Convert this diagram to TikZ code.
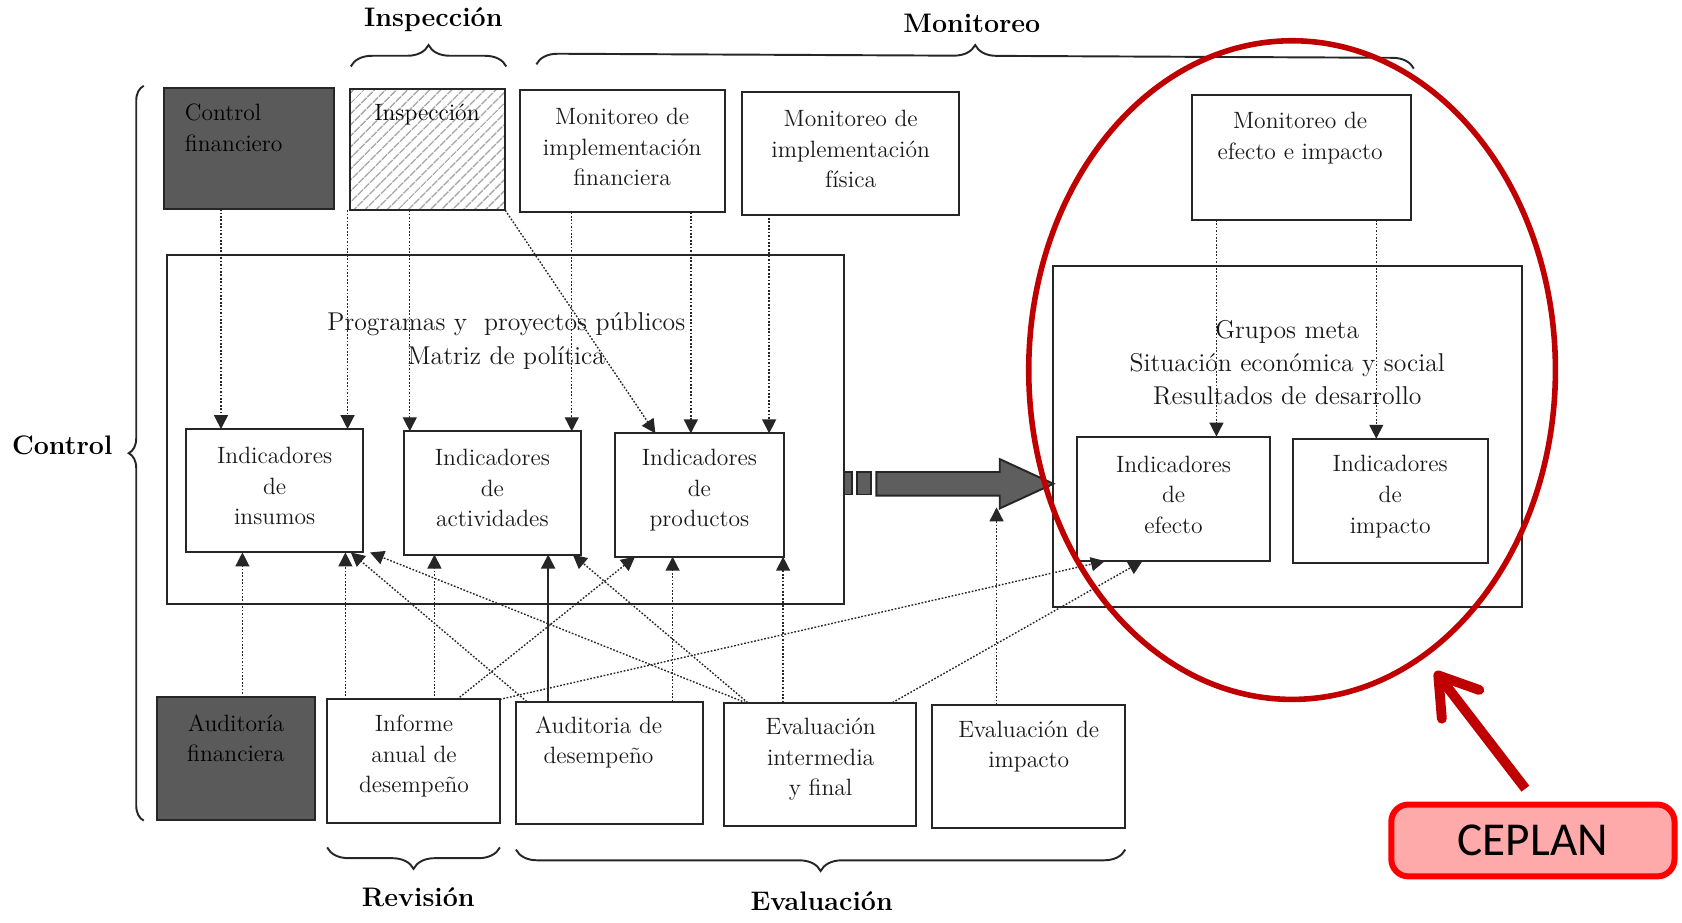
\documentclass[tikz,border=0pt]{standalone}
\usepackage{fontspec}
\newfontfamily\ceplanfont{Carlito}
\usetikzlibrary{arrows.meta,patterns.meta,decorations.pathreplacing,calc}
\definecolor{circred}{HTML}{C00000}
\definecolor{cepfill}{HTML}{FFAAAA}
\definecolor{cepline}{HTML}{FF0000}
\definecolor{darkfill}{HTML}{5A5A5A}
\definecolor{bigarrowfill}{HTML}{5E5E5E}
\newcommand{\mkbox}[6]{\node[#6, minimum width={(#4-#2)*0.5pt}, minimum height={(#5-#3)*0.5pt}] (#1) at ({(#2+#4)/2},{(#3+#5)/2}) {};}
\tikzset{
  box/.style={draw=black!85, line width=0.9pt, fill=white, inner sep=0pt, outer sep=0pt},
  darkbox/.style={box, fill=darkfill},
  hatchbox/.style={draw=black!85, line width=0.9pt, inner sep=0pt, outer sep=0pt,
    pattern={Lines[angle=45,distance=4pt,line width=0.8pt]}, pattern color=black!35},
  btxt/.style={font=\fontsize{11}{14.25}\selectfont, align=center, inner sep=0pt, text=black!90},
  dtxt/.style={btxt, text=black},
  gtxt/.style={font=\fontsize{12}{15.5}\selectfont, align=center, inner sep=0pt, text=black!90},
  ttl/.style={font=\fontsize{12.5}{15}\selectfont\bfseries, inner sep=0pt},
  brc/.style={decorate, decoration={brace, amplitude=10pt}, line width=0.9pt, draw=black!85},
  darr/.style={line width=0.65pt, draw=black!85, dash pattern=on 0.8pt off 0.8pt,
    -{Triangle[width=6.5pt,length=6.5pt]}},
  sarr/.style={line width=0.9pt, draw=black!85, -{Triangle[width=6.5pt,length=6.5pt]}},
  bigarr/.style={fill=bigarrowfill, draw=black!85, line width=0.9pt},
}
\begin{document}
\begin{tikzpicture}[x=0.5pt,y=-0.5pt]
\useasboundingbox (0,0) rectangle (1568,860);

% ---- braces and group titles
\draw[brc] (327,62) -- (472,62);
\node[ttl] (t-insp) at (404,18) {Inspección};
\draw[brc] (500,60) -- (1318,64);
\node[ttl] (t-mon) at (906,22) {Monitoreo};
\draw[brc, decoration={brace, amplitude=7pt}] (134,765) -- (134,80);
\node[ttl] (t-ctrl) at (58,415) {Control};
\draw[brc] (466,790) -- (305,790);
\node[ttl] (t-rev) at (390,836) {Revisión};
\draw[brc] (1049,792) -- (481,792);
\node[ttl] (t-eval) at (766,840) {Evaluación};

% ---- top boxes
\mkbox{cf}{153}{82}{311}{195}{darkbox}
\node[dtxt, align=left, anchor=west] (cf-t) at (172,119) {Control\\financiero};
\mkbox{insp}{326}{83}{471}{196}{hatchbox}
\node[dtxt] (insp-t) at (398,107) {Inspección};
\mkbox{mfin}{485}{84}{676}{198}{box}
\node[btxt] (mfin-t) at (580,137) {Monitoreo de\\implementación\\financiera};
\mkbox{mfis}{692}{86}{894}{200}{box}
\node[btxt] (mfis-t) at (793,139) {Monitoreo de\\implementación\\física};
\mkbox{mefi}{1111}{89}{1315}{205}{box}
\node[btxt] (mefi-t) at (1212,129) {Monitoreo de\\efecto e impacto};

% ---- middle containers
\mkbox{prog}{156}{238}{787}{563}{box}
\node[gtxt] (prog-t) at (472,318) {Programas y\ \ proyectos públicos\\Matriz de política};
\mkbox{grp}{982}{248}{1419}{566}{box}
\node[gtxt] (grp-t) at (1200,338) {Grupos meta\\Situación económica y social\\Resultados de desarrollo};

\mkbox{ins}{173}{400}{338}{515}{box}
\node[btxt] (ins-t) at (256,453) {Indicadores\\de\\insumos};
\mkbox{act}{377}{402}{542}{517}{box}
\node[btxt] (act-t) at (459,455) {Indicadores\\de\\actividades};
\mkbox{prod}{573}{404}{731}{519}{box}
\node[btxt] (prod-t) at (652,457) {Indicadores\\de\\productos};
\mkbox{efe}{1004}{407}{1184}{523}{box}
\node[btxt] (efe-t) at (1094,461) {Indicadores\\de\\efecto};
\mkbox{imp}{1205}{409}{1387}{525}{box}
\node[btxt] (imp-t) at (1296,463) {Indicadores\\de\\impacto};

% ---- bottom boxes
\mkbox{afin}{146}{650}{294}{764}{darkbox}
\node[dtxt] (afin-t) at (220,688) {Auditoría\\financiera};
\mkbox{inf}{305}{652}{466}{767}{box}
\node[btxt] (inf-t) at (386,705) {Informe\\anual de\\desempeño};
\mkbox{ades}{481}{654}{655}{768}{box}
\node[btxt] (ades-t) at (558,692) {Auditoria de\\desempeño};
\mkbox{eint}{675}{655}{854}{770}{box}
\node[btxt] (eint-t) at (765,708) {Evaluación\\intermedia\\y final};
\mkbox{eimp}{869}{657}{1049}{772}{box}
\node[btxt] (eimp-t) at (959,696) {Evaluación de\\impacto};

% ---- big gray arrow between the containers
\draw[bigarr] (prog.east |- 0,440) rectangle (794,461);
\draw[bigarr] (799,440) rectangle (812,461);
\draw[bigarr] (817,440) -- (932,440) -- (932,428) -- (grp.west |- 0,451) -- (932,474) -- (932,462) -- (817,462) -- cycle;
\coordinate (bigbot) at (929,473);

% ---- top arrows
\draw[darr] (cf.south -| 206,0) -- (ins.north -| 206,0);
\draw[darr] (insp.south -| 324,0) -- (ins.north -| 324,0);
\draw[darr] (insp.south -| 382,0) -- (act.north -| 382,0);
\draw[darr] (insp.south east) -- (prod.north -| 611,0);
\draw[darr] (mfin.south -| 533,0) -- (act.north -| 533,0);
\draw[darr] (mfin.south -| 644,0) -- (prod.north -| 644,0);
\draw[darr] (mfis.south -| 717,0) -- (prod.north -| 717,0);
\draw[darr] (mefi.south -| 1134,0) -- (efe.north -| 1134,0);
\draw[darr] (mefi.south -| 1283,0) -- (imp.north -| 1283,0);

% ---- bottom arrows
\draw[darr] (afin.north -| 226,0) -- (ins.south -| 226,0);
\draw[darr] (inf.north -| 322,0) -- (ins.south -| 322,0);
\draw[darr] (inf.north -| 405,0) -- (act.south -| 405,0);
\draw[darr] (inf.north -| 426,0) -- (prod.south -| 592,0);
\draw[darr] (inf.north east) -- (efe.south -| 1030,0);
\draw[darr] (ades.north -| 491,0) -- (ins.south -| 327,0);
\draw[sarr] (ades.north -| 511,0) -- (act.south -| 511,0);
\draw[darr] (ades.north -| 627,0) -- (prod.south -| 627,0);
\draw[darr] (eint.north -| 695,0) -- (ins.south -| 345,0);
\draw[darr] (eint.north -| 697,0) -- (act.south -| 534,0);
\draw[darr] (eint.north -| 730,0) -- (prod.south -| 730,0);
\draw[darr] (eint.north -| 832,0) -- (efe.south -| 1065,0);
\draw[darr] (eimp.north -| 929,0) -- (bigbot);

% ---- CEPLAN annotation
\draw[circred, line width=2.6pt] (1204.5,345) ellipse [x radius=245.5, y radius=307];
\node[draw=cepline, line width=2.8pt, fill=cepfill, rounded corners=8pt,
      minimum width=132pt, minimum height=33.5pt, inner sep=0pt,
      font=\ceplanfont\fontsize{22}{24}\selectfont] (ceplan) at (1429,783.5) {CEPLAN};
\coordinate (redtip) at (1338,626);
\draw[circred, line width=4.6pt, -{Straight Barb[length=17pt,width=22pt,round]}]
  ($(ceplan.north -| 1422,0)+(0,-12)$) -- (redtip);
\end{tikzpicture}
\end{document}
